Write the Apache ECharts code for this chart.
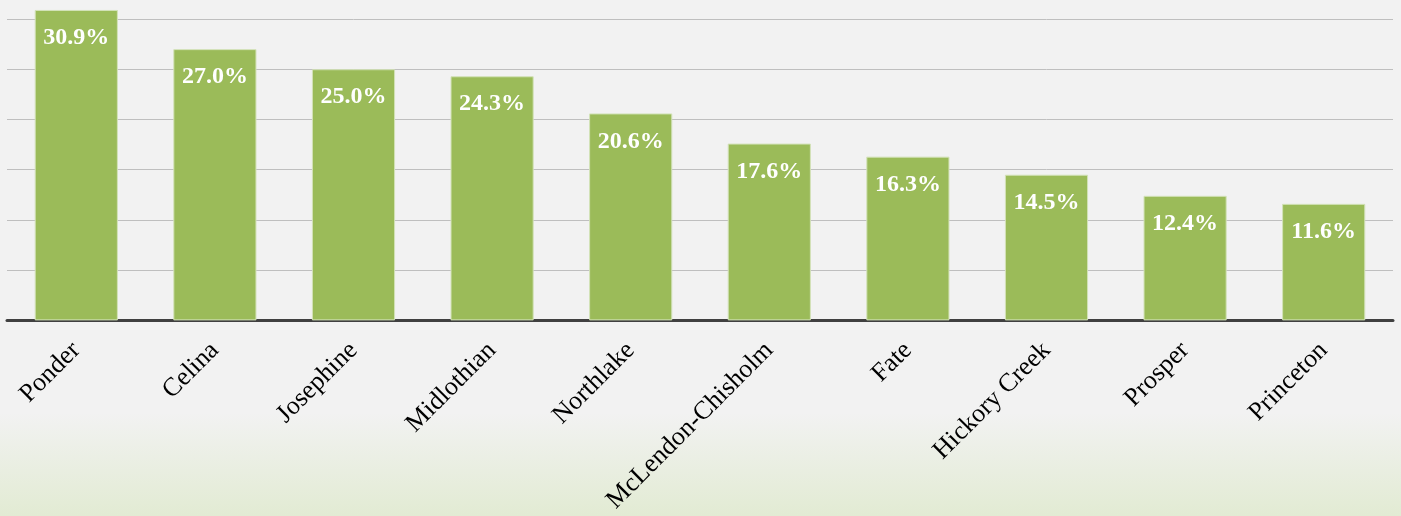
<!DOCTYPE html>
<html>
<head>
<meta charset="utf-8">
<script src="https://cdn.jsdelivr.net/npm/echarts@6/dist/echarts.min.js"></script>
<style>
  html, body { margin: 0; padding: 0; }
  #chart { width: 1401px; height: 516px; }
</style>
</head>
<body>
<div id="chart"></div>
<script>
// cities and share values (%)
const cities = ['Ponder', 'Celina', 'Josephine', 'Midlothian', 'Northlake',
  'McLendon-Chisholm', 'Fate', 'Hickory Creek', 'Prosper', 'Princeton']
const shares = [30.9, 27.0, 25.0, 24.3, 20.6, 17.6, 16.3, 14.5, 12.4, 11.6]

const serif = '"Liberation Serif", "Times New Roman", serif'
const chart = echarts.init(document.getElementById('chart'))
const option = {
  animation: false,
  backgroundColor: new echarts.graphic.LinearGradient(0, 0, 0, 1, [
    { offset: 0, color: '#f2f2f2' },
    { offset: 0.8, color: '#f2f2f2' },
    { offset: 1, color: '#e2ebd3' }
  ]),
  grid: { left: 7, right: 8, top: 19, bottom: 194, containLabel: false },
  xAxis: {
    type: 'category',
    data: cities,
    axisTick: { show: false },
    axisLine: { lineStyle: { color: '#404040', width: 3 } },
    axisLabel: {
      rotate: 45,
      margin: 26,
      interval: 0,
      color: '#000',
      fontFamily: serif,
      fontSize: 26
    }
  },
  yAxis: {
    type: 'value',
    min: 0,
    max: 30,
    interval: 5,
    axisLabel: { show: false },
    axisLine: { show: false },
    axisTick: { show: false },
    splitLine: { lineStyle: { color: '#bfbfbf', width: 1 } }
  },
  series: [{
    type: 'bar',
    data: shares,
    barWidth: '60%',
    clip: false,
    itemStyle: { color: '#9bbb59', borderColor: '#d3e2b8', borderWidth: 1 },
    label: {
      show: true,
      position: 'insideTop',
      distance: 16,
      color: '#fff',
      fontFamily: serif,
      fontWeight: 'bold',
      fontSize: 24,
      formatter: p => p.value.toFixed(1) + '%'
    }
  }]
}
chart.setOption(option)
</script>
</body>
</html>
